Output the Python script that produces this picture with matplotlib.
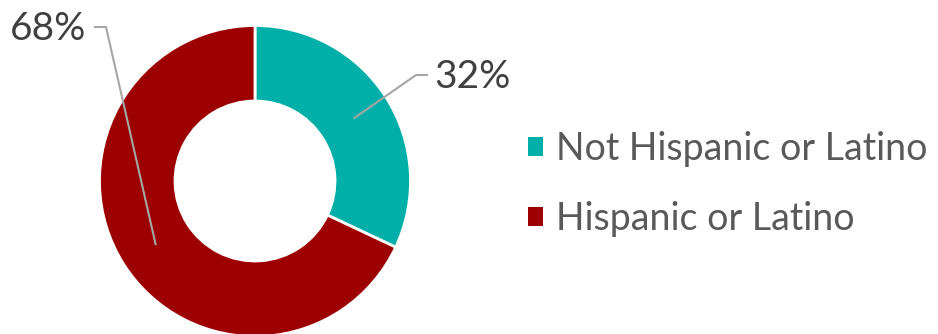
import numpy as np
import matplotlib; matplotlib.use('Agg'); import matplotlib.pyplot as plt

labels = ["Not Hispanic or Latino", "Hispanic or Latino"]
shares = [32, 68]
colors = ["#00B0A8", "#9C0000"]

W, H = 938, 334
fig = plt.figure(figsize=(W/100, H/100), dpi=100, facecolor='white')
ax = fig.add_axes([0, 0, 1, 1])

cx, cy, R, r_in = 255, H - 181, 155.5, 80
wedges, _ = ax.pie(shares, colors=colors, startangle=90, counterclock=False,
                   center=(cx, cy), radius=R, frame=True,
                   wedgeprops=dict(width=R - r_in, edgecolor='white', linewidth=2))
ax.set_xlim(0, W); ax.set_ylim(0, H); ax.axis('off'); ax.set_aspect('equal')

fam = ['Lato', 'DejaVu Sans']
rmid = (R + r_in) / 2
# leader lines: (elbow offset from centre, end x, text anchor)
leaders = [((161, 106), 427, 'left'), ((-149, 154), 95, 'right')]
for w, v, (el, ex, ha) in zip(wedges, shares, leaders):
    a = np.deg2rad((w.theta1 + w.theta2) / 2)
    p0 = (cx + rmid*np.cos(a), cy + rmid*np.sin(a))
    p1 = (cx + el[0], cy + el[1])
    ax.plot([p0[0], p1[0], ex], [p0[1], p1[1], p1[1]], color='#A6A6A6', lw=1.5)
    tx = ex + 7 if ha == 'left' else ex - 9
    ax.text(tx, p1[1] - 2, f"{v}%", ha=ha, va='center', fontsize=28,
            color='#404040', family=fam)

leg = ax.legend(wedges, labels, loc='center left', bbox_to_anchor=(494/W, (H - 184)/H),
                frameon=False, labelcolor='#595959',
                handlelength=0.4, handleheight=0.4, handletextpad=0.35,
                labelspacing=0.9, prop=dict(family=fam, size=27))
for h in leg.legend_handles:
    h.set_linewidth(0)

fig.savefig("out.png", dpi=100, facecolor='white')
